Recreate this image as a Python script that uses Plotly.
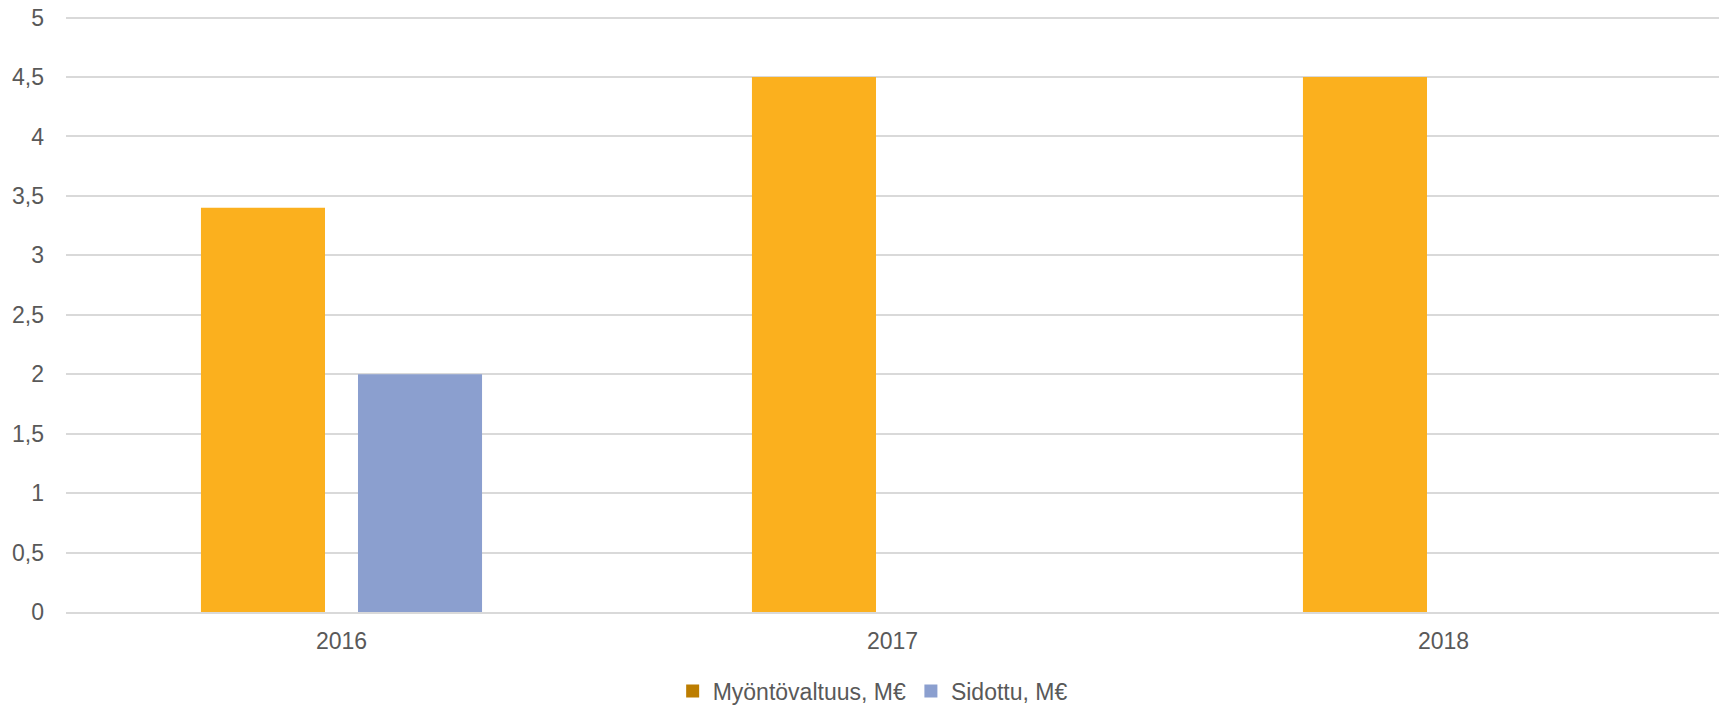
import plotly.graph_objects as go

categories = ["2016", "2017", "2018"]
myontovaltuus = [3.4, 4.5, 4.5]
sidottu = [2.0, None, None]
y_ticks = [0, 0.5, 1, 1.5, 2, 2.5, 3, 3.5, 4, 4.5, 5]
y_tick_labels = ["0", "0,5", "1", "1,5", "2", "2,5", "3", "3,5", "4", "4,5", "5"]

TXT = "#595959"
fig = go.Figure()
fig.add_trace(go.Bar(x=categories, y=myontovaltuus, name="Myöntövaltuus, M€",
                     marker=dict(color="#FBB01E", line=dict(width=0)), showlegend=False))
fig.add_trace(go.Bar(x=categories, y=sidottu, name="Sidottu, M€",
                     marker=dict(color="#8B9FCF", line=dict(width=0)), showlegend=False))
# legend entries (the reference legend shows a darker swatch for the first series)
fig.add_trace(go.Scatter(x=[None], y=[None], mode="markers", name="Myöntövaltuus, M€",
                         marker=dict(symbol="square", size=13, color="#BC7D00", line=dict(width=0))))
fig.add_trace(go.Scatter(x=[None], y=[None], mode="markers", name="Sidottu, M€",
                         marker=dict(symbol="square", size=13, color="#8B9FCF", line=dict(width=0))))

fig.update_layout(
    width=1725, height=706,
    paper_bgcolor="white", plot_bgcolor="white",
    margin=dict(l=66, r=6, t=14, b=94, autoexpand=False),
    barmode="group", bargap=0.43, bargroupgap=0.21,
    font=dict(family="Liberation Sans, Arial, sans-serif", size=23, color=TXT),
    showlegend=True,
    legend=dict(orientation="h", x=0.488, xanchor="center", y=-0.132, yanchor="middle",
                font=dict(size=23, color=TXT), itemwidth=30, traceorder="normal",
                tracegroupgap=0, itemclick=False),
)
fig.update_xaxes(type="category", categoryorder="array", categoryarray=categories,
                 showgrid=False, showline=True, linecolor="#d9d9d9", linewidth=1.5,
                 ticks="", ticklabelstandoff=8)
fig.update_yaxes(range=[0, 5.03], tickvals=y_ticks, ticktext=y_tick_labels,
                 showgrid=True, gridcolor="#d9d9d9", gridwidth=1.5,
                 zeroline=False, showline=False, ticks="", ticklabelstandoff=21)

fig.write_html("out.html", config={"displayModeBar": False},
               post_script="document.body.style.margin='0';document.body.style.overflow='hidden';")
